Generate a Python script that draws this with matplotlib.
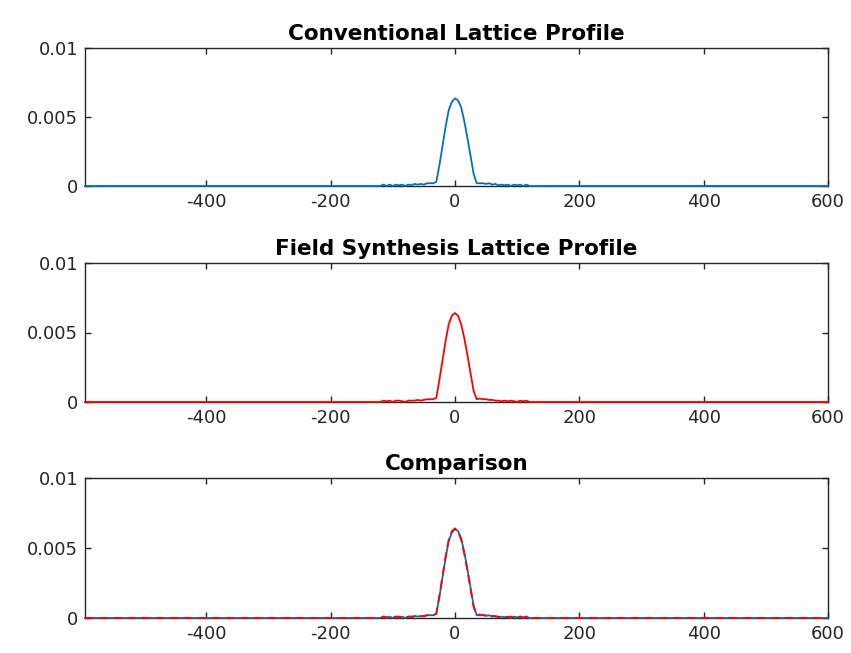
import matplotlib
matplotlib.use('Agg')
import matplotlib.pyplot as plt
from matplotlib.ticker import FixedLocator, FixedFormatter

# profile samples (x in data units, intensity)
x_pos = [-595, -120, -115, -110, -105, -100, -95, -90, -85, -80, -75, -70, -65, -60,
         -55, -50, -45, -40, -35, -30, -25, -20, -15, -10, -5, 0, 5, 10, 15, 20,
         25, 30, 35, 40, 45, 50, 55, 60, 65, 70, 75, 80, 85, 90, 95, 100, 105,
         110, 115, 120, 600]

conventional = [0, 0.0, 0.1, 0.0, 0.1, 0.0, 0.1, 0.05, 0.1, 0.0, 0.1, 0.05, 0.15, 0.1,
                0.15, 0.1, 0.2, 0.2, 0.2, 0.3, 1.5, 2.9, 4.3, 5.5, 6.1, 6.35, 6.2,
                5.7, 4.7, 3.5, 2.2, 0.9, 0.2, 0.2, 0.2, 0.15, 0.2, 0.1, 0.15, 0.05,
                0.1, 0.05, 0.1, 0.0, 0.1, 0.05, 0.1, 0.0, 0.1, 0.0, 0]

field_synthesis = [0, 0.0, 0.1, 0.05, 0.1, 0.0, 0.1, 0.1, 0.05, 0.0, 0.1, 0.1, 0.1, 0.15,
                   0.1, 0.15, 0.2, 0.2, 0.2, 0.3, 1.6, 3.0, 4.4, 5.6, 6.2, 6.4, 6.2,
                   5.6, 4.6, 3.4, 2.1, 0.8, 0.2, 0.25, 0.2, 0.2, 0.15, 0.15, 0.1, 0.1,
                   0.05, 0.1, 0.05, 0.1, 0.05, 0.0, 0.1, 0.05, 0.1, 0.0, 0]

conventional = [v * 1e-3 for v in conventional]
field_synthesis = [v * 1e-3 for v in field_synthesis]

titles = ['Conventional Lattice Profile', 'Field Synthesis Lattice Profile', 'Comparison']
xticks = [-400, -200, 0, 200, 400, 600]
yticks = [0, 0.005, 0.01]
ytick_labels = ['0', '0.005', '0.01']

blue = '#0072BD'
red = '#FF0000'
axis_color = '#262626'

plt.rcParams['font.family'] = ['DejaVu Sans']
plt.rcParams['lines.scale_dashes'] = False
plt.rcParams['axes.unicode_minus'] = False

W, H = 851, 653
fig = plt.figure(figsize=(W / 100, H / 100), dpi=100)

# axes boxes in pixels: (top, bottom)
boxes = [(48, 186), (263, 402), (478, 618)]
left, right = 85, 828

for i, (top, bottom) in enumerate(boxes):
    ax = fig.add_axes([left / W, 1 - bottom / H, (right - left) / W, (bottom - top) / H])
    if i == 0:
        ax.plot(x_pos, conventional, color=blue, lw=1.3, clip_on=False, zorder=3)
    elif i == 1:
        ax.plot(x_pos, field_synthesis, color=red, lw=1.3, clip_on=False, zorder=3)
    else:
        ax.plot(x_pos, conventional, color=blue, lw=1.3, clip_on=False, zorder=3)
        ax.plot(x_pos, field_synthesis, color=red, lw=1.3, dashes=(6.5, 3.6),
                clip_on=False, zorder=4)

    ax.set_xlim(-595, 600)
    ax.set_ylim(0, 0.01)
    ax.xaxis.set_major_locator(FixedLocator(xticks))
    ax.yaxis.set_major_locator(FixedLocator(yticks))
    ax.yaxis.set_major_formatter(FixedFormatter(ytick_labels))
    ax.tick_params(direction='in', length=4, width=1, colors=axis_color,
                   labelsize=13, top=True, right=True, pad=5)
    for sp in ax.spines.values():
        sp.set_color(axis_color)
        sp.set_linewidth(1.0)
    ax.set_title(titles[i], fontsize=15.5, fontweight='bold', pad=6, color='black')

fig.savefig('out.png', dpi=100)
